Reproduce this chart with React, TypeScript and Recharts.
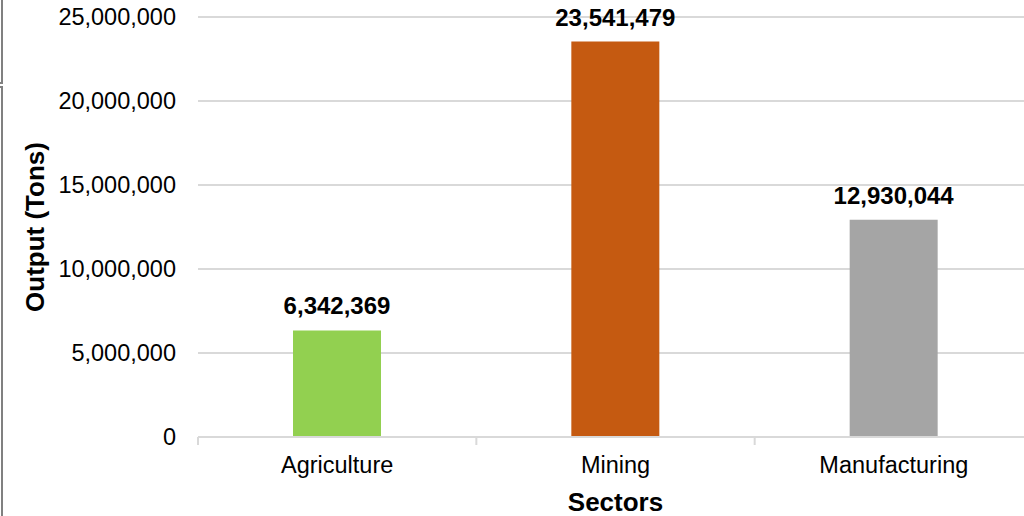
import React from 'react'
import {BarChart, Bar, XAxis, YAxis, CartesianGrid, Cell, LabelList} from 'recharts'

// values
const sectors = ['Agriculture', 'Mining', 'Manufacturing']
const outputTons = [6342369, 23541479, 12930044]
const sectorColors = ['#92d050', '#c55a11', '#a5a5a5']
const yTicks = [0, 5000000, 10000000, 15000000, 20000000, 25000000]

const data = sectors.map((sector, i) => ({sector, output: outputTons[i]}))

const FONT = '"Liberation Sans", Arial, sans-serif'
const CHART_W = 1040
const PLOT_LEFT = 198
const PLOT_RIGHT_MARGIN = 7
const BAND = (CHART_W - PLOT_LEFT - PLOT_RIGHT_MARGIN) / sectors.length

const fmt = (v: number) => Number(v).toLocaleString('en-US')

// category label plus the small tick marks on the band edges
const SectorTick = (props: any) => {
  const {x, y, payload, index} = props
  const half = payload && payload.offset ? payload.offset : BAND / 2
  return (
    <g>
      <line x1={x - half} x2={x - half} y1={y} y2={y + 8} stroke='#d9d9d9' strokeWidth={2} />
      {index === sectors.length - 1 && (
        <line x1={x + half} x2={x + half} y1={y} y2={y + 8} stroke='#d9d9d9' strokeWidth={2} />
      )}
      <text x={x} y={y + 36} textAnchor='middle' fontSize={23.5} fill='#000' fontFamily={FONT}>
        {payload.value}
      </text>
    </g>
  )
}

const YTitle = (props: any) => {
  const vb = props.viewBox || {x: 0, y: 17, width: 198, height: 420}
  const cx = vb.x + 35
  const cy = vb.y + vb.height / 2
  return (
    <text
      x={cx}
      y={cy}
      transform={`rotate(-90 ${cx} ${cy})`}
      textAnchor='middle'
      dominantBaseline='central'
      fontSize={26}
      fontWeight='bold'
      fill='#000'
      fontFamily={FONT}
    >
      Output (Tons)
    </text>
  )
}

const XTitle = (props: any) => {
  const vb = props.viewBox || {x: 198, y: 437, width: 835, height: 79}
  return (
    <text
      x={vb.x + vb.width / 2}
      y={vb.y + 74}
      textAnchor='middle'
      fontSize={26}
      fontWeight='bold'
      fill='#000'
      fontFamily={FONT}
    >
      Sectors
    </text>
  )
}

const edgeBox: React.CSSProperties = {
  position: 'absolute',
  left: -10,
  width: 13,
  boxSizing: 'border-box',
  border: '2px solid #808080'
}

const App: React.FC = () => {
  return (
    <div style={{position: 'fixed', left: 0, top: 0, width: 1024, height: 516, overflow: 'hidden', background: '#fff'}}>
      {/* leftover frame edges at the very left of the reference */}
      <div style={{...edgeBox, top: -10, height: 94}} />
      <div style={{...edgeBox, top: 86, height: 500}} />
      <BarChart
        width={CHART_W}
        height={516}
        data={data}
        margin={{top: 17, right: PLOT_RIGHT_MARGIN, bottom: 0, left: 0}}
        style={{fontFamily: FONT}}
      >
        <CartesianGrid vertical={false} stroke='#d9d9d9' strokeWidth={2} />
        <XAxis
          dataKey='sector'
          height={79}
          tickLine={false}
          tickSize={0}
          tickMargin={0}
          axisLine={{stroke: '#d9d9d9', strokeWidth: 2}}
          tick={<SectorTick />}
          interval={0}
          label={<XTitle />}
        />
        <YAxis
          width={PLOT_LEFT}
          domain={[0, 25000000]}
          ticks={yTicks}
          axisLine={false}
          tickLine={false}
          tickSize={0}
          tickMargin={22}
          tickFormatter={fmt}
          tick={{fontSize: 23.5, fill: '#000', fontFamily: FONT}}
          label={<YTitle />}
        />
        <Bar dataKey='output' barSize={88} isAnimationActive={false}>
          {data.map((d, i) => (
            <Cell key={d.sector} fill={sectorColors[i]} />
          ))}
          <LabelList
            dataKey='output'
            position='top'
            offset={16}
            formatter={(v: any) => fmt(v)}
            style={{fontSize: 24, fontWeight: 'bold', fill: '#000', fontFamily: FONT}}
          />
        </Bar>
      </BarChart>
    </div>
  )
}

export default App
